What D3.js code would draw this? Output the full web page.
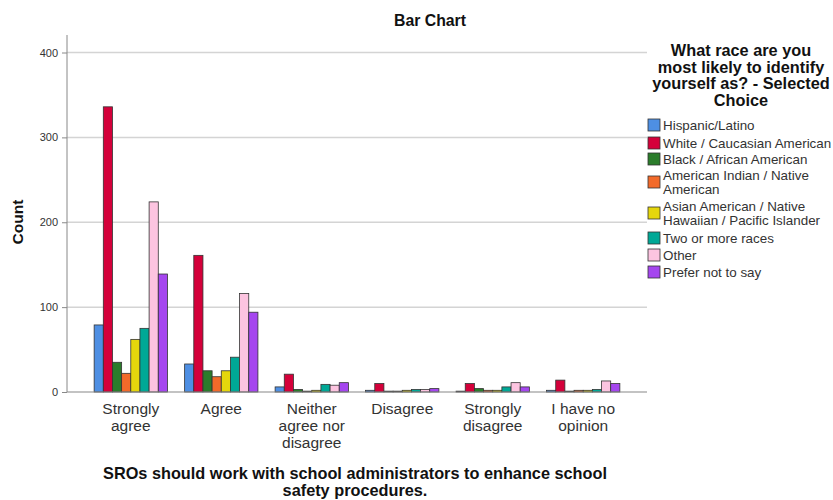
<!DOCTYPE html>
<html><head><meta charset="utf-8">
<script src="https://cdn.jsdelivr.net/npm/d3@7"></script>
<style>body{margin:0;background:#fff;} text{font-family:"Liberation Sans",Arial,sans-serif;}</style>
</head><body><svg id="c" width="833" height="500"></svg>
<script>
const categories = [["Strongly","agree"],["Agree"],["Neither","agree nor","disagree"],["Disagree"],["Strongly","disagree"],["I have no","opinion"]];
const seriesNames = ["Hispanic/Latino","White / Caucasian American","Black / African American","American Indian / Native American","Asian American / Native Hawaiian / Pacific Islander","Two or more races","Other","Prefer not to say"];
const legendLabels = [["Hispanic/Latino"],["White / Caucasian American"],["Black / African American"],["American Indian / Native","American"],["Asian American / Native","Hawaiian / Pacific Islander"],["Two or more races"],["Other"],["Prefer not to say"]];
const colors = ["#4e8fe3","#d4003a","#2b7c2b","#f26a2a","#e5d60c","#00a896","#fcc4e0","#a546ef"];
// values[series][category]
const hispanic = [79, 33, 6, 2, 1, 2];
const white    = [336, 161, 21, 10, 10, 14];
const black    = [35, 25, 3, 1, 4, 1];
const amIndian = [22, 18, 1, 1, 2, 2];
const asian    = [62, 25, 2, 2, 2, 2];
const twoMore  = [75, 41, 9, 3, 6, 3];
const other    = [224, 116, 8, 3, 11, 13];
const prefer   = [139, 94, 11, 4, 6, 10];
const values = [hispanic, white, black, amIndian, asian, twoMore, other, prefer];
const yTicks = [0, 100, 200, 300, 400];

const svg = d3.select("#c");
const pLeft = 67, pRight = 647, pTop = 35, pBottom = 392;
const catKeys = categories.map((d,i)=>i);
const x0 = d3.scaleBand().domain(catKeys).range([pLeft, pRight]).paddingInner(0.19).paddingOuter(0.30);
const x1 = d3.scaleBand().domain(d3.range(seriesNames.length)).range([0, x0.bandwidth()]);
const y = d3.scaleLinear().domain([0, 400]).range([pBottom, 52.5]);

// gridlines
svg.append("g").selectAll("line").data(yTicks.filter(t=>t>0)).join("line")
  .attr("x1", pLeft).attr("x2", pRight).attr("y1", d=>y(d)).attr("y2", d=>y(d))
  .attr("stroke", "#d4d4d4").attr("stroke-width", 1.5);

// y axis
const yAxis = d3.axisLeft(y).tickValues(yTicks).tickSize(5).tickPadding(4).tickFormat(d3.format("d"));
const ya = svg.append("g").attr("transform", `translate(${pLeft},0)`).call(yAxis);
ya.select(".domain").remove();
ya.selectAll(".tick line").attr("stroke", "#888");
ya.selectAll(".tick text").attr("fill", "#333").style("font-size", "11px").style("font-family", "Liberation Sans, Arial, sans-serif");
svg.append("line").attr("x1", pLeft).attr("x2", pLeft).attr("y1", pTop).attr("y2", pBottom).attr("stroke", "#888").attr("stroke-width", 1);

// bars
const groups = svg.append("g").selectAll("g").data(catKeys).join("g")
  .attr("transform", d=>`translate(${x0(d)},0)`);
groups.selectAll("rect").data(c => values.map((s, si) => ({si, v: s[c]}))).join("rect")
  .attr("x", d => x1(d.si)).attr("width", x1.bandwidth())
  .attr("y", d => y(d.v)).attr("height", d => pBottom - y(d.v))
  .attr("fill", d => colors[d.si]).attr("stroke", "#333").attr("stroke-width", 0.8);

// baseline
svg.append("line").attr("x1", pLeft).attr("x2", pRight).attr("y1", pBottom).attr("y2", pBottom).attr("stroke", "#888").attr("stroke-width", 1.2);

// x labels
const xl = svg.append("g");
categories.forEach((lines, i) => {
  const cx = x0(i) + x0.bandwidth()/2;
  lines.forEach((ln, j) => {
    xl.append("text").attr("x", cx).attr("y", 414 + j*17).attr("text-anchor", "middle")
      .attr("fill", "#333").style("font-size", "15.5px").text(ln);
  });
});

// titles
svg.append("text").attr("x", 430).attr("y", 26).attr("text-anchor", "middle").style("font-size", "15.8px").style("font-weight", "bold").attr("fill", "#111").text("Bar Chart");
svg.append("text").attr("transform", "translate(23,222) rotate(-90)").attr("text-anchor", "middle")
  .style("font-size", "15.5px").style("font-weight", "bold").attr("fill", "#111").text("Count");
["SROs should work with school administrators to enhance school","safety procedures."].forEach((t,j)=>{
  svg.append("text").attr("x", 355).attr("y", 479 + j*16.5).attr("text-anchor", "middle")
    .style("font-size", "16.3px").style("font-weight", "bold").attr("fill", "#111").text(t);
});

// legend
["What race are you","most likely to identify","yourself as? - Selected","Choice"].forEach((t,j)=>{
  svg.append("text").attr("x", 741).attr("y", 56 + j*16.7).attr("text-anchor", "middle")
    .style("font-size", "16.3px").style("font-weight", "bold").attr("fill", "#111").text(t);
});
const legY = [125, 143, 159, 182, 213, 238, 255, 272];
legendLabels.forEach((lines, i) => {
  const cy = legY[i];
  svg.append("rect").attr("x", 648).attr("y", cy - 6).attr("width", 12).attr("height", 12)
    .attr("fill", colors[i]).attr("stroke", "#333").attr("stroke-width", 0.8);
  const n = lines.length;
  lines.forEach((ln, j) => {
    svg.append("text").attr("x", 663).attr("y", cy + 5 + (j - (n-1)/2)*13.5)
      .style("font-size", "13.4px").attr("fill", "#333").text(ln);
  });
});
</script></body></html>
